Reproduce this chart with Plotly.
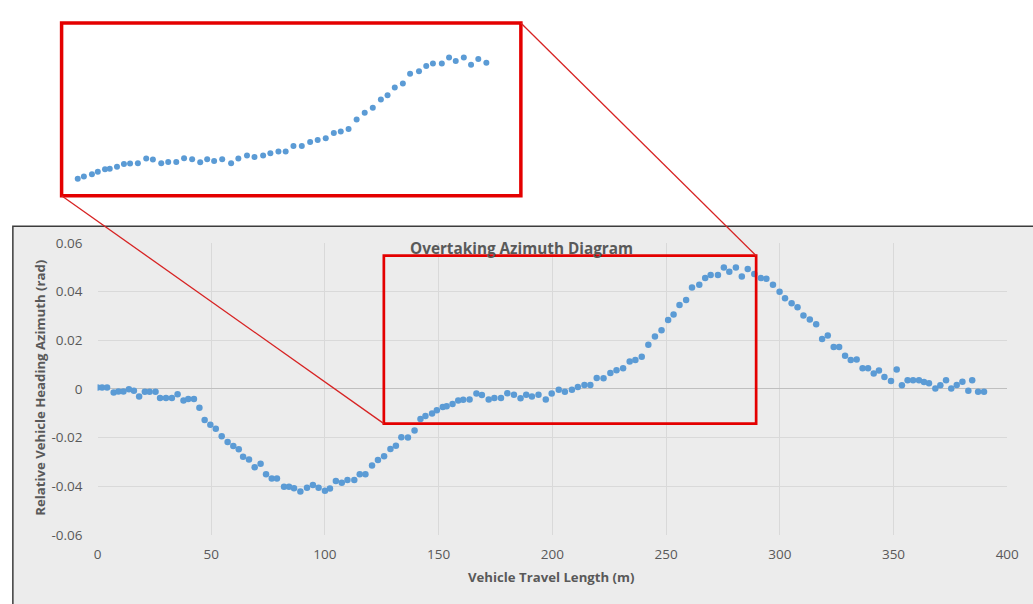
import plotly.graph_objects as go

# Vehicle travel length (m) and relative heading azimuth (rad)
travel_m = [
    0.0, 2.0, 4.2, 7.1, 9.2, 11.4, 13.8, 16.0, 18.3, 20.8, 22.9, 25.5, 27.5, 30.1,
    32.7, 35.2, 37.8, 39.9, 42.4, 44.8, 47.1, 49.6, 52.0, 54.6, 57.2, 59.7, 62.1,
    64.0, 66.6, 69.1, 71.7, 74.1, 76.6, 78.9, 82.0, 84.2, 86.4, 89.2, 92.1, 94.7,
    97.2, 100.0, 102.2, 104.8, 107.4, 109.9, 112.9, 115.3, 117.8, 120.7, 123.3,
    126.0, 128.8, 131.2, 133.6, 136.5, 139.4, 142.0, 144.2, 147.1, 149.2, 151.8,
    153.5, 156.1, 158.6, 160.8, 163.6, 166.6, 169.0, 172.0, 174.5, 177.4, 180.2,
    183.1, 186.0, 188.5, 191.0, 193.9, 197.1, 199.7, 202.8, 205.5, 208.6, 211.2,
    214.1, 216.7, 219.5, 222.5, 225.5, 228.2, 231.1, 234.0, 236.5, 239.3, 242.2,
    245.1, 248.0, 250.9, 253.3, 255.9, 258.8, 261.4, 264.6, 267.2, 269.6, 272.8,
    275.4, 277.8, 280.7, 283.3, 285.9, 288.8, 291.7, 294.1, 297.0, 299.9, 302.3,
    305.2, 307.8, 310.4, 313.2, 316.0, 318.6, 321.1, 323.7, 326.1, 328.7, 331.2,
    333.8, 336.4, 338.8, 341.3, 343.6, 346.0, 348.9, 351.4, 353.7, 356.2, 358.6,
    361.2, 363.4, 365.6, 368.4, 370.6, 373.1, 375.4, 377.8, 380.3, 382.9, 384.6,
    387.2, 389.8,
]
azimuth_rad = [
    0.0005, 0.0005, 0.0005, -0.0015, -0.0011, -0.0011, -0.0002, -0.0008, -0.0031,
    -0.0012, -0.0012, -0.0012, -0.0038, -0.0038, -0.0038, -0.0022, -0.0048,
    -0.0042, -0.0042, -0.0078, -0.0128, -0.0148, -0.0164, -0.0195, -0.0218,
    -0.0235, -0.0248, -0.0279, -0.0290, -0.0322, -0.0308, -0.0351, -0.0368,
    -0.0368, -0.0402, -0.0402, -0.0408, -0.0422, -0.0406, -0.0395, -0.0406,
    -0.0419, -0.0410, -0.0379, -0.0386, -0.0375, -0.0375, -0.0351, -0.0351,
    -0.0315, -0.0292, -0.0277, -0.0247, -0.0234, -0.0199, -0.0200, -0.0171,
    -0.0124, -0.0112, -0.0101, -0.0088, -0.0075, -0.0072, -0.0062, -0.0048,
    -0.0045, -0.0044, -0.0019, -0.0025, -0.0044, -0.0038, -0.0038, -0.0018,
    -0.0024, -0.0039, -0.0024, -0.0032, -0.0024, -0.0044, -0.0019, -0.0004,
    -0.0012, -0.0004, 0.0008, 0.0016, 0.0016, 0.0045, 0.0044, 0.0065, 0.0076,
    0.0085, 0.0112, 0.0119, 0.0132, 0.0181, 0.0215, 0.0241, 0.0283, 0.0305,
    0.0345, 0.0365, 0.0416, 0.0428, 0.0455, 0.0468, 0.0468, 0.0499, 0.0481,
    0.0499, 0.0462, 0.0492, 0.0472, 0.0455, 0.0452, 0.0428, 0.0399, 0.0372,
    0.0352, 0.0335, 0.0301, 0.0285, 0.0265, 0.0205, 0.0219, 0.0172, 0.0172,
    0.0136, 0.0119, 0.0121, 0.0085, 0.0085, 0.0063, 0.0075, 0.0049, 0.0032,
    0.0079, 0.0015, 0.0035, 0.0035, 0.0035, 0.0028, 0.0023, 0.0001, 0.0015,
    0.0035, 0.0001, 0.0016, 0.0029, -0.0008, 0.0035, -0.0012, -0.0012,
]

x_ticks = [0, 50, 100, 150, 200, 250, 300, 350, 400]
x_tick_text = ["0", "50", "100", "150", "200", "250", "300", "350", "400"]
y_ticks = [-0.06, -0.04, -0.02, 0, 0.02, 0.04, 0.06]
y_tick_text = ["-0.06", "-0.04", "-0.02", "0", "0.02", "0.04", "0.06"]

# Region of interest magnified in the inset (data coordinates)
zoom_x = (125.9, 289.6)
zoom_y = (-0.0143, 0.0547)

W, H = 1033, 604
FONT = "Open Sans"
TEXT_GREY = "#595959"
DOT_BLUE = "#5b9bd5"
RED = "rgb(228,0,0)"


def px(x):
    return x / W


def py(y):
    return 1 - y / H


main_dom_x = [px(95), px(1019)]
main_dom_y = [py(542), py(241)]
main_rx = [0, 400]
main_ry = [-0.06, 0.06]

inset_dom_x = [px(58.5), px(525)]
inset_dom_y = [py(192.5), py(14.5)]


def to_paper(xv, yv):
    fx = main_dom_x[0] + (xv - main_rx[0]) / (main_rx[1] - main_rx[0]) * (main_dom_x[1] - main_dom_x[0])
    fy = main_dom_y[0] + (yv - main_ry[0]) / (main_ry[1] - main_ry[0]) * (main_dom_y[1] - main_dom_y[0])
    return fx, fy


inset_pts = [
    (xv, yv) for xv, yv in zip(travel_m, azimuth_rad)
    if zoom_x[0] <= xv <= zoom_x[1] and zoom_y[0] <= yv <= zoom_y[1]
]

fig = go.Figure()
fig.add_trace(go.Scatter(
    x=travel_m, y=azimuth_rad, mode="markers",
    marker=dict(color=DOT_BLUE, size=6.5),
    xaxis="x", yaxis="y", showlegend=False,
))
fig.add_trace(go.Scatter(
    x=[p[0] for p in inset_pts], y=[p[1] for p in inset_pts], mode="markers",
    marker=dict(color=DOT_BLUE, size=6),
    xaxis="x2", yaxis="y2", showlegend=False,
))

tick_font = dict(family=FONT, size=13.5, color=TEXT_GREY)
fig.update_layout(
    width=W, height=H,
    margin=dict(l=0, r=0, t=0, b=0),
    paper_bgcolor="white",
    plot_bgcolor="rgba(0,0,0,0)",
    xaxis=dict(
        domain=main_dom_x, range=main_rx, tickvals=x_ticks, ticktext=x_tick_text,
        showgrid=True, gridcolor="#d9d9d9", gridwidth=1, zeroline=False,
        showline=False, ticks="", tickfont=tick_font, ticklabelstandoff=10,
        anchor="y", fixedrange=True,
    ),
    yaxis=dict(
        domain=main_dom_y, range=main_ry, tickvals=y_ticks, ticktext=y_tick_text,
        showgrid=True, gridcolor="#d9d9d9", gridwidth=1,
        zeroline=True, zerolinecolor="#bfbfbf", zerolinewidth=1,
        showline=False, ticks="", tickfont=tick_font, ticklabelstandoff=14,
        anchor="x", fixedrange=True,
    ),
    xaxis2=dict(
        domain=inset_dom_x, range=[136.2, 301.2], visible=False,
        anchor="y2", fixedrange=True,
    ),
    yaxis2=dict(
        domain=inset_dom_y, range=[-0.0211, 0.0676], visible=False,
        anchor="x2", fixedrange=True,
    ),
)

shapes = []
# Chart area panel
shapes.append(dict(
    type="rect", xref="paper", yref="paper", layer="below",
    x0=px(9), x1=1.05, y0=-0.05, y1=py(224),
    fillcolor="#ececec", line=dict(color="#3c3c3c", width=1.5),
))
# Highlight box on the main chart
shapes.append(dict(
    type="rect", xref="x", yref="y", layer="above",
    x0=zoom_x[0], x1=zoom_x[1], y0=zoom_y[0], y1=zoom_y[1],
    line=dict(color=RED, width=2.7),
))
# Inset frame
shapes.append(dict(
    type="rect", xref="paper", yref="paper", layer="above",
    x0=inset_dom_x[0], x1=inset_dom_x[1], y0=inset_dom_y[0], y1=inset_dom_y[1],
    line=dict(color=RED, width=3.5),
))
# Connector lines from inset corners to the highlight box
bl = to_paper(zoom_x[0], zoom_y[0])
tr = to_paper(zoom_x[1], zoom_y[1])
shapes.append(dict(
    type="line", xref="paper", yref="paper", layer="above",
    x0=inset_dom_x[0], y0=inset_dom_y[0], x1=bl[0], y1=bl[1],
    line=dict(color="rgb(215,35,35)", width=1.3),
))
shapes.append(dict(
    type="line", xref="paper", yref="paper", layer="above",
    x0=inset_dom_x[1], y0=inset_dom_y[1], x1=tr[0], y1=tr[1],
    line=dict(color="rgb(215,35,35)", width=1.3),
))
fig.update_layout(shapes=shapes)

fig.add_annotation(
    text="Overtaking Azimuth Diagram", xref="paper", yref="paper",
    x=px(526), y=py(246), showarrow=False, xanchor="center", yanchor="middle",
    font=dict(family=FONT, size=15.3, color=TEXT_GREY, weight="bold"),
)
fig.add_annotation(
    text="Vehicle Travel Length (m)", xref="paper", yref="paper",
    x=px(556), y=py(585), showarrow=False, xanchor="center", yanchor="middle",
    font=dict(family=FONT, size=13.2, color=TEXT_GREY, weight="bold"),
)
fig.add_annotation(
    text="Relative Vehicle Heading Azimuth (rad)", xref="paper", yref="paper",
    x=px(37), y=py(390), showarrow=False, xanchor="center", yanchor="middle",
    textangle=-90,
    font=dict(family=FONT, size=13.2, color=TEXT_GREY, weight="bold"),
)

fig.write_html("out.html")
